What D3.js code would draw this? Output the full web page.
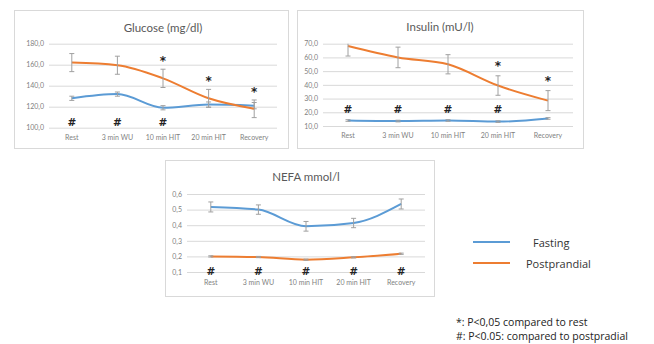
<!DOCTYPE html>
<html>
<head>
<meta charset="utf-8">
<script src="https://cdn.jsdelivr.net/npm/d3@7/dist/d3.min.js"></script>
<style>
  html, body { margin: 0; padding: 0; background: #fff; }
  svg { display: block; font-family: Lato, "Open Sans", sans-serif; }
</style>
</head>
<body>
<svg id="chart" width="654" height="344"></svg>
<script>
// Time points of the protocol
const categories = ["Rest", "3 min WU", "10 min HIT", "20 min HIT", "Recovery"];

// Glucose (mg/dl): mean and SE
const glucoseFasting = [128, 132, 119, 122, 121];
const glucoseFastingErr = [2, 2, 2, 2.5, 3];
const glucosePost = [162, 159.5, 147, 128, 118];
const glucosePostErr = [8.6, 8.6, 8.7, 8.5, 8.4];
const glucoseStar = [0, 0, 1, 1, 1];
const glucoseHash = [1, 1, 1, 0, 0];
const glucoseTicks = [100, 120, 140, 160, 180];

// Insulin (mU/l): mean and SE
const insulinFasting = [14, 13.6, 14, 13.2, 15.5];
const insulinFastingErr = [0.6, 0.6, 0.6, 0.6, 0.6];
const insulinPost = [68.3, 60, 55, 39.5, 28.5];
const insulinPostErr = [7.3, 7.5, 7, 7.1, 7.3];
const insulinStar = [0, 0, 0, 1, 1];
const insulinHash = [1, 1, 1, 1, 0];
const insulinTicks = [10, 20, 30, 40, 50, 60, 70];

// NEFA (mmol/l): mean and SE
const nefaFasting = [0.517, 0.50, 0.393, 0.414, 0.536];
const nefaFastingErr = [0.032, 0.03, 0.031, 0.03, 0.032];
const nefaPost = [0.20, 0.196, 0.179, 0.194, 0.217];
const nefaPostErr = [0.004, 0.004, 0.004, 0.004, 0.004];
const nefaStar = [0, 0, 0, 0, 0];
const nefaHash = [1, 1, 1, 1, 1];
const nefaTicks = [0.1, 0.2, 0.3, 0.4, 0.5, 0.6];

const seriesNames = ["Fasting", "Postprandial"];
const footnotes = ["*: P<0,05 compared to rest", "#: P<0.05: compared to postpradial"];

const BLUE = "#5b9bd5", ORANGE = "#ed7d31";
const MARK_FONT = "'DejaVu Sans', sans-serif";
const svg = d3.select("#chart");

const comma = f => v => f(v).replace(".", ",");

const panels = [
  {
    title: "Glucose (mg/dl)", box: [14, 10, 288, 148], plotX: [49, 277], plotY: [127.7, 43.7],
    domain: [100, 180], ticks: glucoseTicks, fmt: comma(d3.format(".1f")),
    fast: glucoseFasting, fastErr: glucoseFastingErr, post: glucosePost, postErr: glucosePostErr,
    star: glucoseStar, hash: glucoseHash, hashAt: 105.8, labelY: 138, titleY: 27, starGap: 11
  },
  {
    title: "Insulin (mU/l)", box: [297, 10, 583, 148], plotX: [323, 573], plotY: [126, 43.7],
    domain: [10, 70], ticks: insulinTicks, fmt: comma(d3.format(".1f")),
    fast: insulinFasting, fastErr: insulinFastingErr, post: insulinPost, postErr: insulinPostErr,
    star: insulinStar, hash: insulinHash, hashAt: 22.3, labelY: 136, titleY: 26, starGap: 12.5
  },
  {
    title: "NEFA mmol/l", box: [165, 160, 434, 296], plotX: [187, 425], plotY: [272, 194],
    domain: [0.1, 0.6], ticks: nefaTicks, fmt: comma(d3.format(".1f")),
    fast: nefaFasting, fastErr: nefaFastingErr, post: nefaPost, postErr: nefaPostErr,
    star: nefaStar, hash: nefaHash, hashAt: 0.104, labelY: 283, titleY: 176, starGap: 11
  }
];

panels.forEach((p, pi) => {
  const g = svg.append("g");
  const [x0, y0, x1, y1] = p.box;

  g.append("rect")
    .attr("x", x0 + 0.5).attr("y", y0 + 0.5)
    .attr("width", x1 - x0).attr("height", y1 - y0)
    .attr("fill", "#fff").attr("stroke", "#d9d9d9");

  g.append("text")
    .attr("x", (p.plotX[0] + p.plotX[1]) / 2 + (pi === 1 ? -8 : 0))
    .attr("y", p.titleY)
    .attr("text-anchor", "middle").attr("dominant-baseline", "central")
    .attr("font-size", 11.5).attr("fill", "#595959")
    .text(p.title);

  const x = d3.scaleBand().domain(categories).range(p.plotX);
  const y = d3.scaleLinear().domain(p.domain).range(p.plotY);
  const cx = c => x(c) + x.bandwidth() / 2;

  // Horizontal gridlines with value labels
  const yAxis = d3.axisLeft(y).tickValues(p.ticks).tickFormat(p.fmt)
    .tickSize(-(p.plotX[1] - p.plotX[0])).tickPadding(5);
  const ya = g.append("g").attr("transform", `translate(${p.plotX[0]},0)`).call(yAxis);
  ya.select(".domain").remove();
  ya.selectAll("line").attr("stroke", "#d9d9d9");
  ya.selectAll("text").attr("font-size", 7).attr("fill", "#7f7f7f")
    .attr("font-family", "Lato, sans-serif");

  // Category labels
  const xAxis = d3.axisBottom(x).tickSize(0).tickPadding(0);
  const xa = g.append("g").attr("transform", `translate(0,${p.labelY - 3})`).call(xAxis);
  xa.select(".domain").remove();
  xa.selectAll("text").attr("font-size", 7).attr("fill", "#7f7f7f")
    .attr("font-family", "Lato, sans-serif");

  const clipId = "clip" + pi;
  g.append("clipPath").attr("id", clipId).append("rect")
    .attr("x", p.plotX[0]).attr("y", p.plotY[1])
    .attr("width", p.plotX[1] - p.plotX[0]).attr("height", p.plotY[0] - p.plotY[1]);
  const plot = g.append("g").attr("clip-path", `url(#${clipId})`);

  const line = d3.line().x(d => cx(d.c)).y(d => y(d.v)).curve(d3.curveMonotoneX);

  [[p.fast, p.fastErr, BLUE], [p.post, p.postErr, ORANGE]].forEach(([vals, errs, col]) => {
    const data = categories.map((c, i) => ({ c, v: vals[i], e: errs[i] }));
    plot.append("path").datum(data).attr("d", line)
      .attr("fill", "none").attr("stroke", col).attr("stroke-width", 2)
      .attr("stroke-linejoin", "round");
    const eb = plot.append("g").attr("stroke", "#a0a0a0").attr("stroke-width", 1);
    data.forEach(d => {
      const xc = cx(d.c);
      eb.append("line").attr("x1", xc).attr("x2", xc).attr("y1", y(d.v - d.e)).attr("y2", y(d.v + d.e));
      [d.v - d.e, d.v + d.e].forEach(v => {
        eb.append("line").attr("x1", xc - 2.5).attr("x2", xc + 2.5).attr("y1", y(v)).attr("y2", y(v));
      });
    });
  });

  // Significance marks: * above the postprandial error bar, # near the baseline
  categories.forEach((c, i) => {
    if (p.star[i]) {
      g.append("text").attr("x", cx(c))
        .attr("y", y(p.post[i] + p.postErr[i]) - p.starGap + 7)
        .attr("text-anchor", "middle").attr("font-family", MARK_FONT)
        .attr("font-size", 12).attr("font-weight", "bold").attr("fill", "#222")
        .text("*");
    }
    if (p.hash[i]) {
      g.append("text").attr("x", cx(c)).attr("y", y(p.hashAt) + 4)
        .attr("text-anchor", "middle").attr("font-family", MARK_FONT)
        .attr("font-size", 10.5).attr("font-weight", "bold").attr("fill", "#222")
        .text("#");
    }
  });
});

// Legend
const legend = svg.append("g").attr("font-family", "'Open Sans', sans-serif");
[[BLUE, 242, 533], [ORANGE, 263, 526]].forEach(([col, ly, tx], i) => {
  legend.append("line").attr("x1", 473).attr("x2", 510).attr("y1", ly).attr("y2", ly)
    .attr("stroke", col).attr("stroke-width", 2);
  legend.append("text").attr("x", tx).attr("y", ly).attr("dominant-baseline", "central")
    .attr("font-size", 11).attr("fill", "#333").text(seriesNames[i]);
});

// Footnotes
footnotes.forEach((t, i) => {
  svg.append("text").attr("x", 456).attr("y", 322 + i * 13.5).attr("dominant-baseline", "central")
    .attr("font-family", "'Open Sans', sans-serif")
    .attr("font-size", 10.5).attr("fill", "#222").text(t);
});
</script>
</body>
</html>
